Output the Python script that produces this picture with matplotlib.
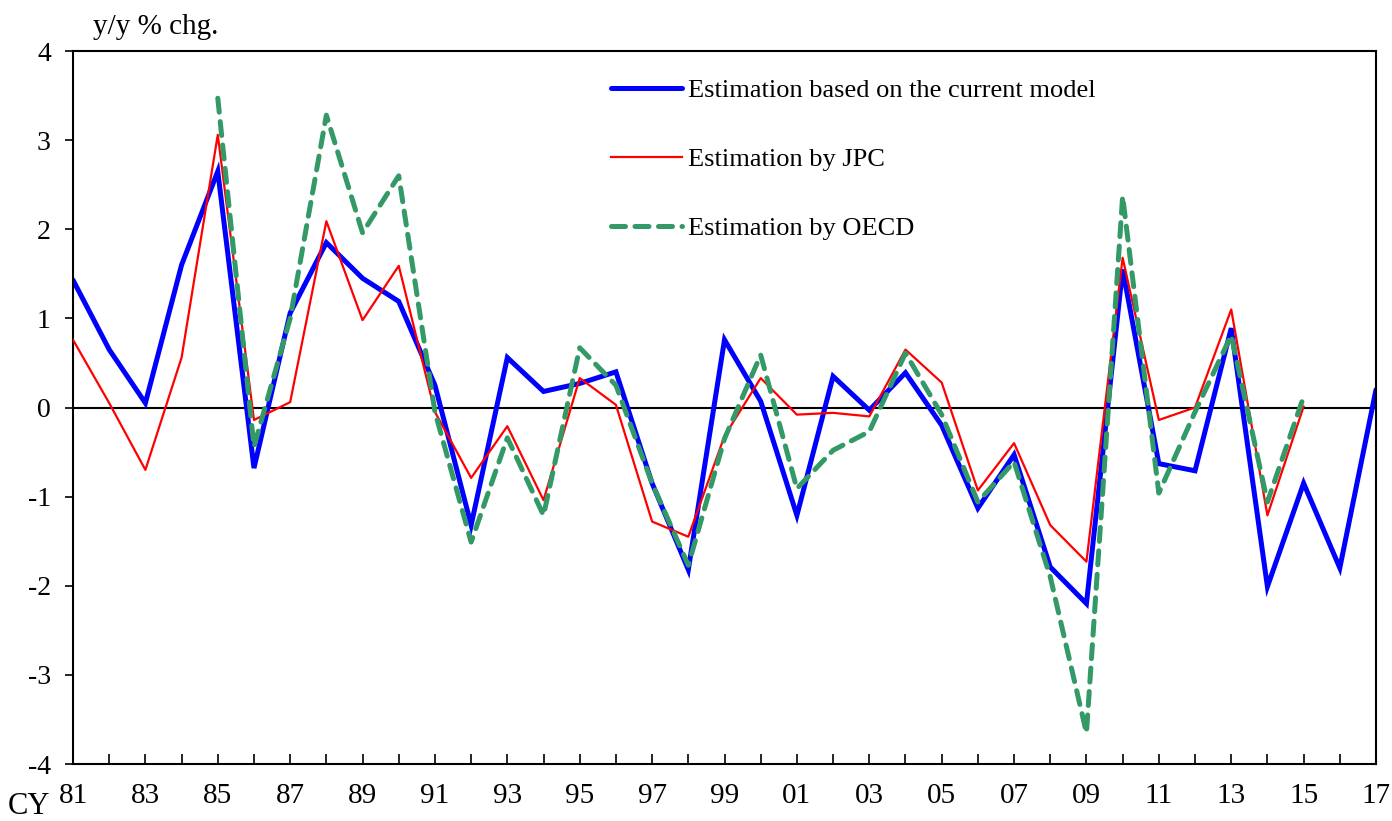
import numpy as np
import matplotlib
matplotlib.use('Agg')
import matplotlib.pyplot as plt

plt.rcParams['font.family'] = ['Liberation Serif', 'DejaVu Serif']

# data
years_model = list(range(1981, 2018))
model = [1.43, 0.65, 0.05, 1.60, 2.65, -0.68, 1.06, 1.85, 1.45, 1.19,
         0.25, -1.32, 0.56, 0.18, 0.27, 0.40, -0.85, -1.82, 0.76, 0.07,
         -1.21, 0.35, -0.03, 0.39, -0.20, -1.13, -0.53, -1.79, -2.20, 1.55,
         -0.63, -0.71, 0.89, -2.01, -0.85, -1.80, 0.20]

years_jpc = list(range(1981, 2016))
jpc = [0.76, 0.05, -0.70, 0.56, 3.06, -0.14, 0.06, 2.09, 0.98, 1.59,
       -0.05, -0.79, -0.21, -1.04, 0.33, 0.03, -1.28, -1.45, -0.32, 0.33,
       -0.08, -0.06, -0.10, 0.65, 0.28, -0.93, -0.40, -1.32, -1.73, 1.68,
       -0.14, 0.00, 1.10, -1.21, 0.01]

years_oecd = list(range(1985, 2016))
oecd = [3.47, -0.44, 1.00, 3.28, 1.96, 2.60, -0.05, -1.51, -0.34, -1.21,
        0.67, 0.25, -0.85, -1.77, -0.35, 0.59, -0.91, -0.48, -0.27, 0.61,
        -0.08, -1.06, -0.61, -1.90, -3.65, 2.37, -0.96, -0.05, 0.81, -1.06,
        0.12]

labels = ['Estimation based on the current model', 'Estimation by JPC',
          'Estimation by OECD']

fig = plt.figure(figsize=(13.92, 8.21), dpi=100)
ax = fig.add_axes([73/1392, 1 - 764/821, (1376 - 73)/1392, (764 - 51)/821])

ax.axhline(0, color='black', lw=1.5, zorder=1)

ax.plot(years_model, model, color='#0000FF', lw=3.6, label=labels[0],
        solid_capstyle='round', solid_joinstyle='miter', zorder=2)
ax.plot(years_jpc, jpc, color='#FF0000', lw=1.6, label=labels[1], zorder=3)
ax.plot(years_oecd, oecd, color='#339966', lw=3.6, label=labels[2],
        linestyle=(0, (2.8, 1.9)), dash_capstyle='round', zorder=4)

ax.set_xlim(1981, 2017)
ax.set_ylim(-4, 4)

ax.set_xticks(years_model)
ax.set_xticklabels([('%02d' % (y % 100)) if (y - 1981) % 2 == 0 else ''
                    for y in years_model])
ax.set_yticks(np.arange(-4, 5, 1))
ax.set_yticklabels([str(v) for v in range(-4, 5)])

ax.tick_params(axis='x', direction='in', length=7, width=1.2, pad=14,
               labelsize=21)
ax.tick_params(axis='y', direction='out', length=6, width=1.2, pad=10,
               labelsize=20)
for s in ax.spines.values():
    s.set_linewidth(1.5)

ax.legend(loc='upper left', bbox_to_anchor=(0.413, 0.961), frameon=False,
          fontsize=19, handlelength=2.7, handletextpad=0.2,
          labelspacing=1.72, borderaxespad=0, borderpad=0)

fig.text(93/1392, 1 - 27/821, 'y/y % chg.', fontsize=21, ha='left',
         va='center')
fig.text(8/1392, 1 - 806/821, 'CY', fontsize=22, ha='left', va='center')

fig.savefig('out.png', dpi=100)
